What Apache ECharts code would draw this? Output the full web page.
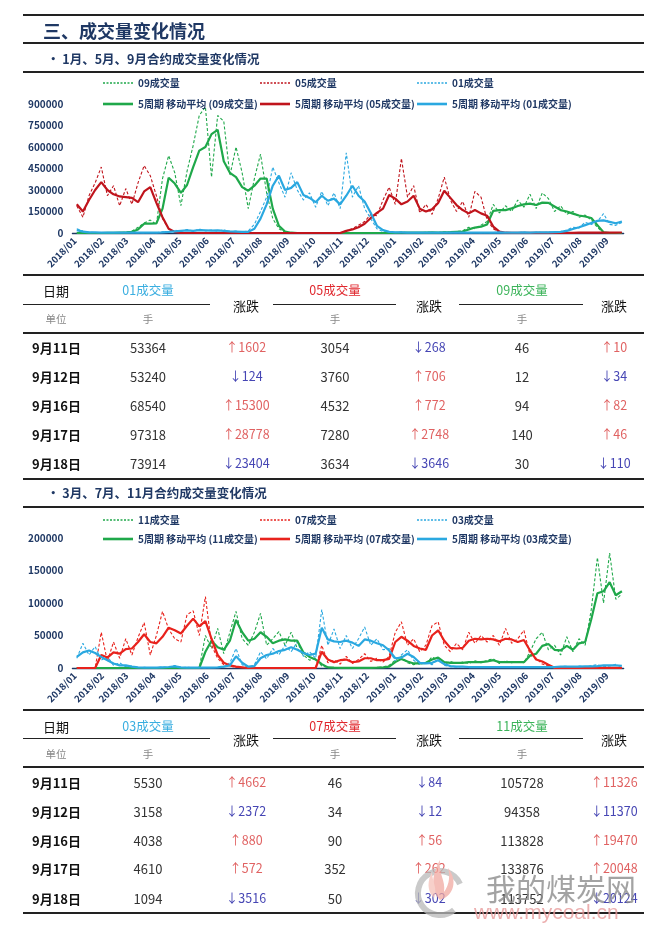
<!DOCTYPE html>
<html><head><meta charset="utf-8">
<script src="https://cdn.jsdelivr.net/npm/echarts@6/dist/echarts.min.js"></script>
<style>
html,body{margin:0;padding:0;background:#fff;}
#page{position:relative;width:660px;height:930px;overflow:hidden;font-family:"Noto Sans CJK SC","Microsoft YaHei",sans-serif;}
#chart{position:absolute;left:0;top:0;width:660px;height:930px;}
#page div.o{position:absolute;white-space:nowrap;line-height:1;z-index:2;}
</style></head>
<body><div id="page"><div id="chart"></div></div>
<script>
// ---------------- data (weekly readings, Wednesday of each week, 2018-01-03 .. 2019-09-18) ----------------
const firstWeek = [2018, 0, 3];
const weekCount = 90;

// Chart 1: 1月、5月、9月合约
const raw09a = [0,0,0,0,0,2000,1000,3000,5000,12000,
 40000,70000,90000,60000,380000,540000,420000,190000,430000,610000,
 820000,880000,390000,820000,780000,400000,600000,420000,170000,380000,
 550000,280000,100000,30000,5000,1000,0,0,0,0,
 0,0,0,0,0,0,0,0,0,0,
 0,2000,1000,3000,1000,4000,2000,5000,3000,4000,
 7000,5000,10000,15000,40000,30000,55000,80000,200000,140000,
 190000,150000,230000,180000,270000,170000,280000,240000,150000,190000,
 130000,150000,110000,125000,90000,40000,1000,94,46,30];
const ma09a = [0,0,0,0,0,1000,1000,2000,3000,8000,
 25000,65000,65000,67000,170000,385000,345000,280000,335000,460000,
 575000,600000,690000,720000,500000,420000,390000,320000,295000,330000,
 380000,380000,170000,50000,10000,2000,0,0,0,0,
 0,0,0,0,0,0,0,0,0,0,
 0,1000,1000,2000,2000,3000,2000,3000,4000,3000,
 5000,6000,8000,10000,25000,38000,44000,60000,155000,160000,
 160000,172000,188000,200000,205000,195000,212000,210000,185000,160000,
 150000,135000,122000,115000,105000,55000,5000,100,80,60];
const raw05a = [190000,110000,260000,350000,460000,260000,330000,190000,310000,200000,
 350000,470000,400000,260000,100000,30000,5000,0,0,0,
 0,0,0,0,0,0,0,0,0,0,
 0,0,0,0,0,0,0,0,0,0,
 0,0,0,0,15000,30000,55000,80000,130000,120000,
 230000,320000,200000,520000,250000,330000,140000,200000,130000,240000,
 390000,230000,150000,220000,110000,290000,250000,90000,30000,5000,
 1500,800,400,700,300,600,400,1000,800,1200,
 1300,1800,1600,2500,1800,2600,2200,3500,3054,3634];
const ma05a = [200000,150000,230000,300000,355000,300000,270000,255000,250000,245000,
 215000,290000,320000,210000,110000,30000,8000,0,0,0,
 0,0,0,0,0,0,0,0,0,0,
 0,0,0,0,0,0,0,0,0,0,
 0,0,0,0,15000,25000,40000,65000,105000,140000,
 170000,265000,240000,200000,220000,260000,170000,150000,165000,210000,
 295000,245000,195000,160000,137000,160000,137000,120000,45000,9000,
 2000,1000,500,500,500,500,500,800,1000,1000,
 1500,1500,2000,2000,2000,2500,2500,3000,3054,3634];
const raw01a = [30000,14000,5000,3000,4000,2000,3000,2000,4000,2000,
 3000,1000,4000,2000,8000,5000,20000,10000,25000,12000,
 28000,15000,20000,14000,22000,8000,14000,6000,15000,60000,
 150000,250000,460000,350000,250000,420000,300000,230000,280000,180000,
 290000,190000,280000,170000,560000,250000,330000,170000,100000,30000,
 10000,5000,3000,6000,2000,4000,1000,4000,2000,3000,
 1000,3000,2000,4000,1000,4000,2000,3000,2000,5000,
 2000,3000,2000,5000,2000,5000,3000,6000,4000,10000,
 20000,40000,35000,75000,60000,80000,135000,60000,53364,73914];
const ma01a = [20000,10000,5000,4000,3000,3000,2000,3000,2000,3000,
 2000,2000,3000,3000,5000,8000,12000,15000,18000,15000,
 20000,18000,16000,18000,15000,12000,10000,8000,8000,30000,
 100000,200000,330000,400000,300000,315000,355000,265000,245000,215000,
 260000,225000,240000,200000,260000,330000,260000,220000,140000,50000,
 20000,8000,5000,4000,3000,3000,2000,3000,2000,2000,
 3000,2000,2000,3000,2000,3000,2000,2000,3000,4000,
 3000,2000,3000,4000,3000,4000,5000,4000,6000,8000,
 15000,28000,40000,55000,70000,85000,88000,78000,68000,80000];

// Chart 2: 3月、7月、11月合约
const raw11b = [0,0,0,0,0,0,0,0,0,0,
 0,0,0,0,0,0,0,0,0,0,
 0,50000,30000,61000,22000,55000,87000,45000,35000,55000,
 84000,35000,45000,56000,35000,55000,30000,20000,12000,15000,
 3000,500,300,600,100,400,200,500,200,900,
 1500,4000,12000,18000,8000,5000,9000,6000,17000,12000,
 6000,10000,7000,9000,7000,11000,8000,12000,14000,7000,
 11000,8000,10000,8000,25000,45000,55000,28000,35000,20000,
 48000,25000,45000,35000,90000,170000,100000,177000,105728,113752];
const ma11b = [0,0,0,0,0,0,0,0,0,0,
 0,0,0,0,0,0,0,0,0,0,
 0,25000,42000,32000,28000,42000,74000,55000,42000,45000,
 55000,48000,38000,42000,44000,42000,42000,24000,17000,13000,
 6000,1000,500,300,200,200,200,300,300,500,
 800,2000,9000,14000,10000,7000,7000,8000,13000,16000,
 9000,8000,8000,8000,9000,9000,9000,10000,12000,9000,
 9000,9000,9000,9000,19000,22000,34000,37000,28000,27000,
 34000,28000,38000,40000,75000,115000,118000,132000,112000,118000];
const raw07b = [0,0,0,0,55000,10000,40000,15000,45000,20000,
 47000,70000,20000,50000,87000,60000,45000,40000,82000,88000,
 50000,110000,35000,15000,5000,3000,1000,500,0,0,
 0,0,0,0,0,0,0,0,0,0,
 35000,8000,12000,6000,18000,7000,13000,22000,10000,15000,
 9000,18000,55000,71000,35000,45000,25000,35000,65000,71000,
 35000,25000,38000,28000,55000,38000,50000,40000,50000,35000,
 61000,38000,45000,58000,20000,15000,6000,3000,500,300,
 200,150,100,100,80,60,130,40,46,50];
const ma07b = [0,0,0,0,20000,16000,24000,22000,29000,30000,
 40000,52000,40000,38000,48000,62000,58000,53000,65000,76000,
 64000,72000,45000,20000,8000,4000,2000,1000,0,0,
 0,0,0,0,0,0,0,0,0,0,
 25000,13000,9000,12000,13000,9000,10000,15000,15000,12000,
 12000,14000,40000,48000,42000,34000,30000,28000,50000,58000,
 42000,31000,30000,31000,42000,45000,44000,45000,44000,41000,
 45000,44000,40000,43000,27000,13000,10000,5000,300,200,
 200,100,100,100,100,100,100,100,100,100];
const raw03b = [15000,38000,20000,33000,12000,18000,4000,8000,2000,3000,
 500,1000,200,800,1500,1000,4000,500,1000,300,
 800,200,600,400,1500,8000,30000,5000,1000,5000,
 25000,14000,30000,20000,35000,25000,40000,18000,25000,15000,
 90000,35000,60000,30000,50000,30000,45000,63000,35000,45000,
 28000,30000,10000,20000,28000,12000,5000,9000,5000,15000,
 4000,2000,1500,2500,1000,2000,1200,1800,1000,2200,
 1300,1700,1000,2000,1500,1800,1200,2500,1500,2200,
 2800,1500,3000,2000,3500,5000,2000,3000,5530,1094];
const ma03b = [17000,24000,27000,23000,17000,12000,7000,4000,4000,2000,
 1000,500,500,500,1000,1500,2500,1000,500,500,
 500,500,500,1000,2000,4000,18000,8000,2000,3000,
 15000,20000,22000,26000,28000,32000,28000,23000,20000,22000,
 62000,44000,41000,40000,42000,39000,34000,44000,42000,38000,
 35000,27000,15000,16000,22000,17000,8000,7000,8000,12000,
 6000,3000,2000,2000,1500,1500,1500,1500,1500,1500,
 1500,1500,1500,1500,1500,1500,1500,1500,1500,2000,
 2000,2000,2000,2500,2500,3000,4000,4000,4000,3500];

// Tables
const tblDates = ['9月11日','9月12日','9月16日','9月17日','9月18日'];
const t1v01 = [53364,53240,68540,97318,73914];
const t1c01 = [1602,-124,15300,28778,-23404];
const t1v05 = [3054,3760,4532,7280,3634];
const t1c05 = [-268,706,772,2748,-3646];
const t1v09 = [46,12,94,140,30];
const t1c09 = [10,-34,82,46,-110];
const t2v03 = [5530,3158,4038,4610,1094];
const t2c03 = [4662,-2372,880,572,-3516];
const t2v07 = [46,34,90,352,50];
const t2c07 = [-84,-12,56,262,-302];
const t2v11 = [105728,94358,113828,133876,113752];
const t2c11 = [11326,-11370,19470,20048,-20124];

const yTicks1 = {min:0, max:900000, interval:150000};
const yTicks2 = {min:0, max:200000, interval:50000};

// ---------------- layout ----------------
const NAVY = '#1f3864';
const FONT = '"Noto Sans CJK SC","Microsoft YaHei",sans-serif';
const page = document.getElementById('page');
function txt(str, x, y, style, align) {
  const d = document.createElement('div');
  d.className = 'o';
  d.textContent = str;
  const tx = align === 'left' ? '0' : (align === 'right' ? '-100%' : '-50%');
  d.style.cssText = `left:${x}px;top:${y}px;transform:translate(${tx},-50%);` + (style || '');
  page.appendChild(d);
  return d;
}
function rule(x1, x2, y, h, color) {
  const d = document.createElement('div');
  d.className = 'o';
  d.style.cssText = `left:${x1}px;top:${y - h/2}px;width:${x2 - x1}px;height:${h}px;background:${color || '#222'};`;
  page.appendChild(d);
}
// header
rule(23, 644, 14.7, 2);
txt('三、成交量变化情况', 43, 30, `font-size:18px;font-weight:bold;color:${NAVY};`, 'left');
rule(23, 644, 43.3, 2);
txt('• 1月、5月、9月合约成交量变化情况', 47, 58.5, `font-size:12.5px;font-weight:bold;color:${NAVY};`, 'left');
rule(23, 644, 71.7, 2.2);
rule(23, 644, 479, 2);
txt('• 3月、7月、11月合约成交量变化情况', 47, 493, `font-size:12.5px;font-weight:bold;color:${NAVY};`, 'left');
rule(23, 644, 507, 2.2);

function table(top, names, colors, vals, chgs, yRows, bottom) {
  rule(23, 644, top.rTop, 2);
  txt('日期', 56, top.hdr, 'font-size:13px;color:#111;');
  const cx = [148, 335, 522], chx = [246, 429, 614];
  for (let k = 0; k < 3; k++) {
    txt(names[k], cx[k], top.hdr, `font-size:12.5px;color:${colors[k]};`);
    txt('涨跌', chx[k], top.zd, 'font-size:13px;color:#111;');
    txt('手', cx[k], top.unit, 'font-size:10.5px;color:#888;');
  }
  rule(23, 210, top.zd, 1.5); rule(273, 396, top.zd, 1.5); rule(459, 583, top.zd, 1.5);
  txt('单位', 56, top.unit, 'font-size:10.5px;color:#888;');
  rule(23, 644, top.thick, 2.2);
  for (let r = 0; r < tblDates.length; r++) {
    const y = yRows[r];
    txt(tblDates[r], 32, y, 'font-size:13px;font-weight:bold;color:#111;', 'left');
    for (let k = 0; k < 3; k++) {
      txt(String(vals[k][r]), cx[k], y, 'font-size:13px;color:#333;');
      const c = chgs[k][r];
      txt((c >= 0 ? '↑' : '↓') + Math.abs(c), chx[k], y,
          `font-size:12.5px;color:${c >= 0 ? '#e06262' : '#4646b4'};`);
    }
  }
  if (bottom) rule(23, 644, bottom, 2);
}
table({rTop:275, hdr:290, zd:304.5, unit:319, thick:333},
  ['01成交量','05成交量','09成交量'], ['#3aaee0','#e0282e','#3cb45a'],
  [t1v01, t1v05, t1v09], [t1c01, t1c05, t1c09], [347,376,405,434,463], null);
table({rTop:710, hdr:726, zd:738.5, unit:754, thick:767},
  ['03成交量','07成交量','11成交量'], ['#3aaee0','#e0282e','#3cb45a'],
  [t2v03, t2v07, t2v11], [t2c03, t2c07, t2c11], [782,811,840,868,898], 913);

// watermark
const wm = document.createElement('div');
wm.className = 'o';
wm.style.cssText = 'left:410px;top:850px;width:60px;height:72px;opacity:0.75;';
wm.innerHTML = '<svg width="60" height="72" viewBox="0 0 60 72">' +
  '<path d="M44 60 A22 22 0 1 1 50 34" fill="none" stroke="#b9b9b9" stroke-width="6"/>' +
  '<path d="M30 50 C20 40 22 24 30 10 C28 24 36 30 34 42 C40 34 40 24 38 18 C48 30 44 46 30 50 Z" fill="#f0a8a0"/>' +
  '<path d="M24 48 C16 40 18 30 22 22 C22 32 28 38 24 48 Z" fill="#f4c0b8"/></svg>';
page.appendChild(wm);
txt('我的煤炭网', 486, 887, 'font-size:30px;color:#8c8c8c;opacity:0.8;z-index:3;', 'left');
txt('www.mycoal.cn', 474, 911, 'font-family:"Liberation Sans",Arial,sans-serif;font-size:21px;color:#e89c9c;opacity:0.8;z-index:3;', 'left');

// ---------------- chart ----------------
const weekDates = [];
for (let i = 0; i < weekCount; i++) weekDates.push(new Date(firstWeek[0], firstWeek[1], firstWeek[2] + 7 * i).getTime());
const DAY = 86400000;
const xMin = new Date(2017, 11, 29).getTime();
const xMax = new Date(2019, 8, 20).getTime();
const pxPerDay = 0.875;
const gridLeft = 72.4;
const gridWidth = (xMax - xMin) / DAY * pxPerDay;

const C1 = {g:'#1fa84a', r:'#c0141c', b:'#2aa8e0'};
const C2 = {g:'#1fa84a', r:'#e8221c', b:'#2aa8e0'};

function ser(name, vals, color, dashed, gi) {
  return {
    name, type:'line', xAxisIndex:gi, yAxisIndex:gi,
    data: vals.map((v, i) => [weekDates[i], v]),
    symbol:'none', showSymbol:false, animation:false,
    lineStyle:{color, width: dashed ? 1.1 : 2.2, type: dashed ? [3, 2] : 'solid'},
    itemStyle:{color}, z: dashed ? 2 : 3
  };
}
const series = [
  ser('09成交量', raw09a, C1.g, true, 0),
  ser('05成交量', raw05a, C1.r, true, 0),
  ser('01成交量', raw01a, C1.b, true, 0),
  ser('5周期 移动平均 (09成交量)', ma09a, C1.g, false, 0),
  ser('5周期 移动平均 (05成交量)', ma05a, C1.r, false, 0),
  ser('5周期 移动平均 (01成交量)', ma01a, C1.b, false, 0),
  ser('11成交量', raw11b, C2.g, true, 1),
  ser('07成交量', raw07b, C2.r, true, 1),
  ser('03成交量', raw03b, C2.b, true, 1),
  ser('5周期 移动平均 (11成交量)', ma11b, C2.g, false, 1),
  ser('5周期 移动平均 (07成交量)', ma07b, C2.r, false, 1),
  ser('5周期 移动平均 (03成交量)', ma03b, C2.b, false, 1)
];
const lgX = [103, 260, 417];
const DASH_ICON = 'path://M0 0h2v1h-2zM3.5 0h2v1h-2zM7 0h2v1h-2zM10.5 0h2v1h-2zM14 0h2v1h-2zM17.5 0h2v1h-2zM21 0h2v1h-2zM24.5 0h2v1h-2zM28 0h2v1h-2z';
function lg(name, col, rowTop, dashed) {
  return {data:[{name, icon: dashed ? DASH_ICON : 'rect'}], left: lgX[col], top: rowTop, padding:0,
    itemWidth:30, itemHeight: dashed ? 1.4 : 2.6, itemGap:0, symbolKeepAspect:false,
    selectedMode:false, textStyle:{fontSize:10, lineHeight:14, fontWeight:'bold', color:NAVY, fontFamily:FONT}};
}
const legends = [
  lg('09成交量',0,76,true), lg('05成交量',1,76,true), lg('01成交量',2,76,true),
  lg('5周期 移动平均 (09成交量)',0,97,false), lg('5周期 移动平均 (05成交量)',1,97,false), lg('5周期 移动平均 (01成交量)',2,97,false),
  lg('11成交量',0,513,true), lg('07成交量',1,513,true), lg('03成交量',2,513,true),
  lg('5周期 移动平均 (11成交量)',0,532,false), lg('5周期 移动平均 (07成交量)',1,532,false), lg('5周期 移动平均 (03成交量)',2,532,false)
];
function xa(gi) {
  return {type:'time', gridIndex:gi, min:xMin, max:xMax, splitNumber:21, minInterval:28*DAY, maxInterval:31*DAY,
    axisLine:{show:true, lineStyle:{color:'#1f3864', width:1.3}}, axisTick:{show:false}, splitLine:{show:false},
    axisLabel:{rotate:45, formatter:'{yyyy}/{MM}', fontSize:9.5, fontWeight:'bold', color:NAVY, fontFamily:FONT,
      margin:6, showMinLabel:false, showMaxLabel:false, hideOverlap:false}};
}
function ya(gi, t) {
  return {type:'value', gridIndex:gi, min:t.min, max:t.max, interval:t.interval,
    axisLine:{show:false}, axisTick:{show:false}, splitLine:{show:false},
    axisLabel:{fontSize:10, fontWeight:'bold', color:NAVY, fontFamily:FONT, margin:9, formatter: v => String(v)}};
}
const chart = echarts.init(document.getElementById('chart'), null, {renderer:'canvas'});
chart.setOption({
  animation:false,
  backgroundColor:'#fff',
  textStyle:{fontFamily:FONT},
  grid:[
    {left:gridLeft, top:104, width:gridWidth, height:129},
    {left:gridLeft, top:538, width:gridWidth, height:130}
  ],
  legend: legends,
  xAxis:[xa(0), xa(1)],
  yAxis:[ya(0, yTicks1), ya(1, yTicks2)],
  series
});
</script></body></html>
